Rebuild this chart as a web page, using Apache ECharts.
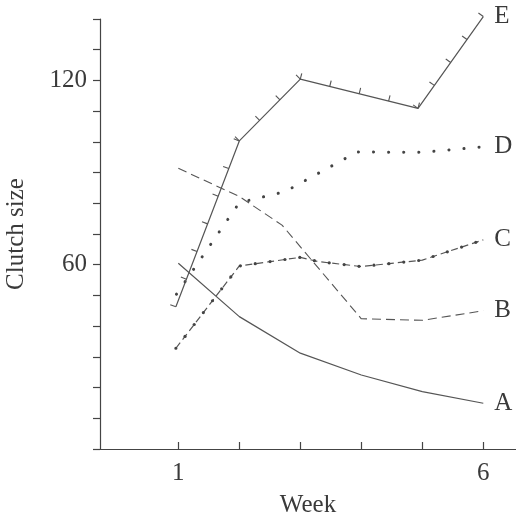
<!DOCTYPE html>
<html>
<head>
<meta charset="utf-8">
<script src="https://cdn.jsdelivr.net/npm/echarts@6/dist/echarts.min.js"></script>
<style>
html,body{margin:0;padding:0;background:#fff;}
#chart{width:516px;height:518px;}
</style>
</head>
<body>
<div id="chart"></div>
<script>
const xTicks = [1, 2, 3, 4, 5, 6];
const xLabels = [1, 6];
const yLabels = [60, 120];

const weeksA = [1, 2, 3, 4, 5, 6];
const clutchA = [60.5, 43.1, 31.2, 24.1, 18.7, 14.9];

const weeksB = [1, 2, 2.7, 4, 5, 6];
const clutchB = [91.4, 82.2, 72.9, 42.4, 41.9, 45.0];

const weeksC = [0.96, 2, 3, 3.3, 4, 5, 6];
const clutchC = [32.8, 59.6, 62.4, 61.0, 59.4, 61.5, 68.1];

const weeksD = [0.97, 2, 2.75, 3.93, 5, 6];
const clutchD = [50.4, 80.2, 83.8, 96.7, 96.6, 98.4];

const weeksE = [0.96, 2, 3, 4.93, 6];
const clutchE = [46.3, 100.3, 120.4, 110.9, 140.8];

const FONT = '"Liberation Serif", "DejaVu Serif", serif';
const TEXT = '#3a3a3a';
const INK = '#555';

function pairs(w, v) { return w.map((x, i) => [x, v[i]]); }

function lineSeries(name, w, v, lineStyle) {
  return {
    type: 'line', name: name, data: pairs(w, v),
    showSymbol: false, symbol: 'none', clip: false, silent: true,
    lineStyle: Object.assign({ color: INK, width: 1.2 }, lineStyle),
    endLabel: {
      show: true, formatter: name, distance: 11,
      color: TEXT, fontSize: 25, fontFamily: FONT
    },
    z: 2
  };
}

// tick marks along E (perpendicular, on the upper/left side)
function tickDecor(w, v) {
  return {
    type: 'custom', coordinateSystem: 'cartesian2d', silent: true, clip: false,
    data: pairs(w, v), encode: { x: 0, y: 1 }, z: 3,
    renderItem: function (params, api) {
      if (params.dataIndex !== 0) return null;
      const pts = w.map((x, i) => api.coord([x, v[i]]));
      const children = [];
      for (let i = 0; i < pts.length - 1; i++) {
        const a = pts[i], b = pts[i + 1];
        const dx = b[0] - a[0], dy = b[1] - a[1];
        const L = Math.hypot(dx, dy);
        const ux = dx / L, uy = dy / L;
        const nx = uy, ny = -ux;
        const n = Math.max(1, Math.round(L / 30));
        for (let k = 0; k <= n; k++) {
          const px = a[0] + ux * L * k / n, py = a[1] + uy * L * k / n;
          children.push({
            type: 'line',
            shape: { x1: px, y1: py, x2: px + nx * 6, y2: py + ny * 6 },
            style: { stroke: INK, lineWidth: 1.1 }
          });
        }
      }
      return { type: 'group', children: children };
    }
  };
}

// small dots along C
function dotDecor(w, v) {
  return {
    type: 'custom', coordinateSystem: 'cartesian2d', silent: true, clip: false,
    data: pairs(w, v), encode: { x: 0, y: 1 }, z: 3,
    renderItem: function (params, api) {
      if (params.dataIndex !== 0) return null;
      const pts = w.map((x, i) => api.coord([x, v[i]]));
      const children = [];
      let carry = 0;
      for (let i = 0; i < pts.length - 1; i++) {
        const a = pts[i], b = pts[i + 1];
        const dx = b[0] - a[0], dy = b[1] - a[1];
        const L = Math.hypot(dx, dy);
        let s = carry;
        while (s <= L) {
          children.push({
            type: 'circle',
            shape: { cx: a[0] + dx * s / L, cy: a[1] + dy * s / L, r: 1.6 },
            style: { fill: '#444' }
          });
          s += 15;
        }
        carry = s - L;
      }
      return { type: 'group', children: children };
    }
  };
}

const chart = echarts.init(document.getElementById('chart'), null, { renderer: 'canvas' });
chart.setOption({
  animation: false,
  backgroundColor: '#fff',
  grid: { left: 100, right: 0, top: 19, bottom: 69, containLabel: false, outerBoundsMode: 'none' },
  xAxis: {
    type: 'value', min: -0.284, max: 6.536,
    name: 'Week', nameLocation: 'middle', nameGap: 44,
    nameTextStyle: { color: TEXT, fontSize: 25, fontFamily: FONT },
    axisLine: { show: true, onZero: false, lineStyle: { color: '#444', width: 1.2 } },
    axisTick: { show: true, inside: true, length: 7, customValues: xTicks,
      lineStyle: { color: '#444', width: 1.2 } },
    axisLabel: { customValues: xLabels, margin: 12, color: TEXT, fontSize: 25, fontFamily: FONT },
    splitLine: { show: false }
  },
  yAxis: {
    type: 'value', min: 0, max: 140, interval: 10,
    name: 'Clutch size', nameLocation: 'middle', nameGap: 71,
    nameTextStyle: { color: TEXT, fontSize: 25, fontFamily: FONT },
    axisLine: { show: true, onZero: false, lineStyle: { color: '#444', width: 1.2 } },
    axisTick: { show: true, inside: false, length: 7, lineStyle: { color: '#444', width: 1.2 } },
    axisLabel: { customValues: yLabels, margin: 13, color: TEXT, fontSize: 25, fontFamily: FONT },
    splitLine: { show: false }
  },
  series: [
    lineSeries('A', weeksA, clutchA, {}),
    lineSeries('B', weeksB, clutchB, { type: [9, 5], width: 1.1 }),
    lineSeries('C', weeksC, clutchC, { type: [7, 4], width: 1.2 }),
    dotDecor(weeksC, clutchC),
    lineSeries('D', weeksD, clutchD, { type: [0.1, 15], cap: 'round', width: 3, color: '#444' }),
    lineSeries('E', weeksE, clutchE, {}),
    tickDecor(weeksE, clutchE)
  ]
});
</script>
</body>
</html>
